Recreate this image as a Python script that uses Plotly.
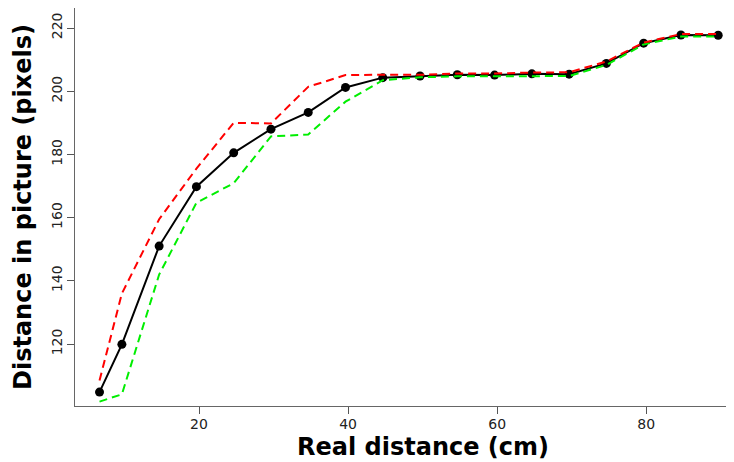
import plotly.graph_objects as go

real_cm = [6.65, 9.65, 14.65, 19.65, 24.65, 29.65, 34.65, 39.65, 44.65, 49.65,
           54.65, 59.65, 64.65, 69.65, 74.65, 79.65, 84.65, 89.65]
measured = [104.8, 119.9, 151.0, 169.8, 180.5, 188.0, 193.3, 201.2, 204.3, 204.8,
            205.2, 205.1, 205.5, 205.4, 208.8, 215.2, 217.8, 217.7]
upper = [108.5, 136.0, 159.5, 175.5, 190.0, 189.8, 201.4, 205.1, 205.2, 205.2,
         205.6, 205.6, 205.9, 206.0, 209.4, 215.4, 218.1, 218.1]
lower = [101.8, 104.1, 142.0, 164.7, 170.9, 185.7, 186.3, 196.7, 203.5, 204.4,
         204.7, 204.7, 204.9, 204.8, 208.3, 214.8, 217.3, 217.3]

x_ticks = [20, 40, 60, 80]
y_ticks = [120, 140, 160, 180, 200, 220]
x_title = "Real distance (cm)"
y_title = "Distance in picture (pixels)"

fig = go.Figure()
fig.add_trace(go.Scatter(x=real_cm, y=measured, mode="lines+markers",
                         line=dict(color="black", width=2),
                         marker=dict(color="black", size=9), showlegend=False))
fig.add_trace(go.Scatter(x=real_cm, y=lower, mode="lines",
                         line=dict(color="#00ee00", width=2, dash="8px,5px"),
                         showlegend=False))
fig.add_trace(go.Scatter(x=real_cm, y=upper, mode="lines",
                         line=dict(color="#ff0000", width=2, dash="8px,5px"),
                         showlegend=False))

font_family = "DejaVu Sans"
fig.update_layout(
    width=726, height=454,
    margin=dict(l=67, r=0, t=0, b=56, pad=0),
    paper_bgcolor="white", plot_bgcolor="white",
    font=dict(family=font_family, color="black"),
    xaxis=dict(range=[3.36, 91.77], tickvals=x_ticks, ticks="outside", ticklen=7,
               tickcolor="#555", showline=True, linecolor="#666", linewidth=1,
               mirror=True, showgrid=False, zeroline=False, automargin=False,
               ticklabelstandoff=-2,
               tickfont=dict(size=14, family=font_family, color="#222")),
    yaxis=dict(range=[100.4, 226.33], tickvals=y_ticks, ticks="outside", ticklen=7,
               tickcolor="#555", showline=True, linecolor="#666", linewidth=1,
               mirror=False, showgrid=False, zeroline=False, tickangle=-90,
               automargin=False, ticklabelstandoff=-1,
               tickfont=dict(size=14, family=font_family, color="#222"),
               title=dict(text="<b>" + y_title + "</b>", standoff=11,
                          font=dict(size=24, family=font_family, color="black"))),
    annotations=[dict(text="<b>" + x_title + "</b>", xref="paper", yref="paper",
                      x=0.528, y=-0.103, xanchor="center", yanchor="middle",
                      showarrow=False,
                      font=dict(size=24, family=font_family, color="black"))],
)

fig.write_html("out.html")
